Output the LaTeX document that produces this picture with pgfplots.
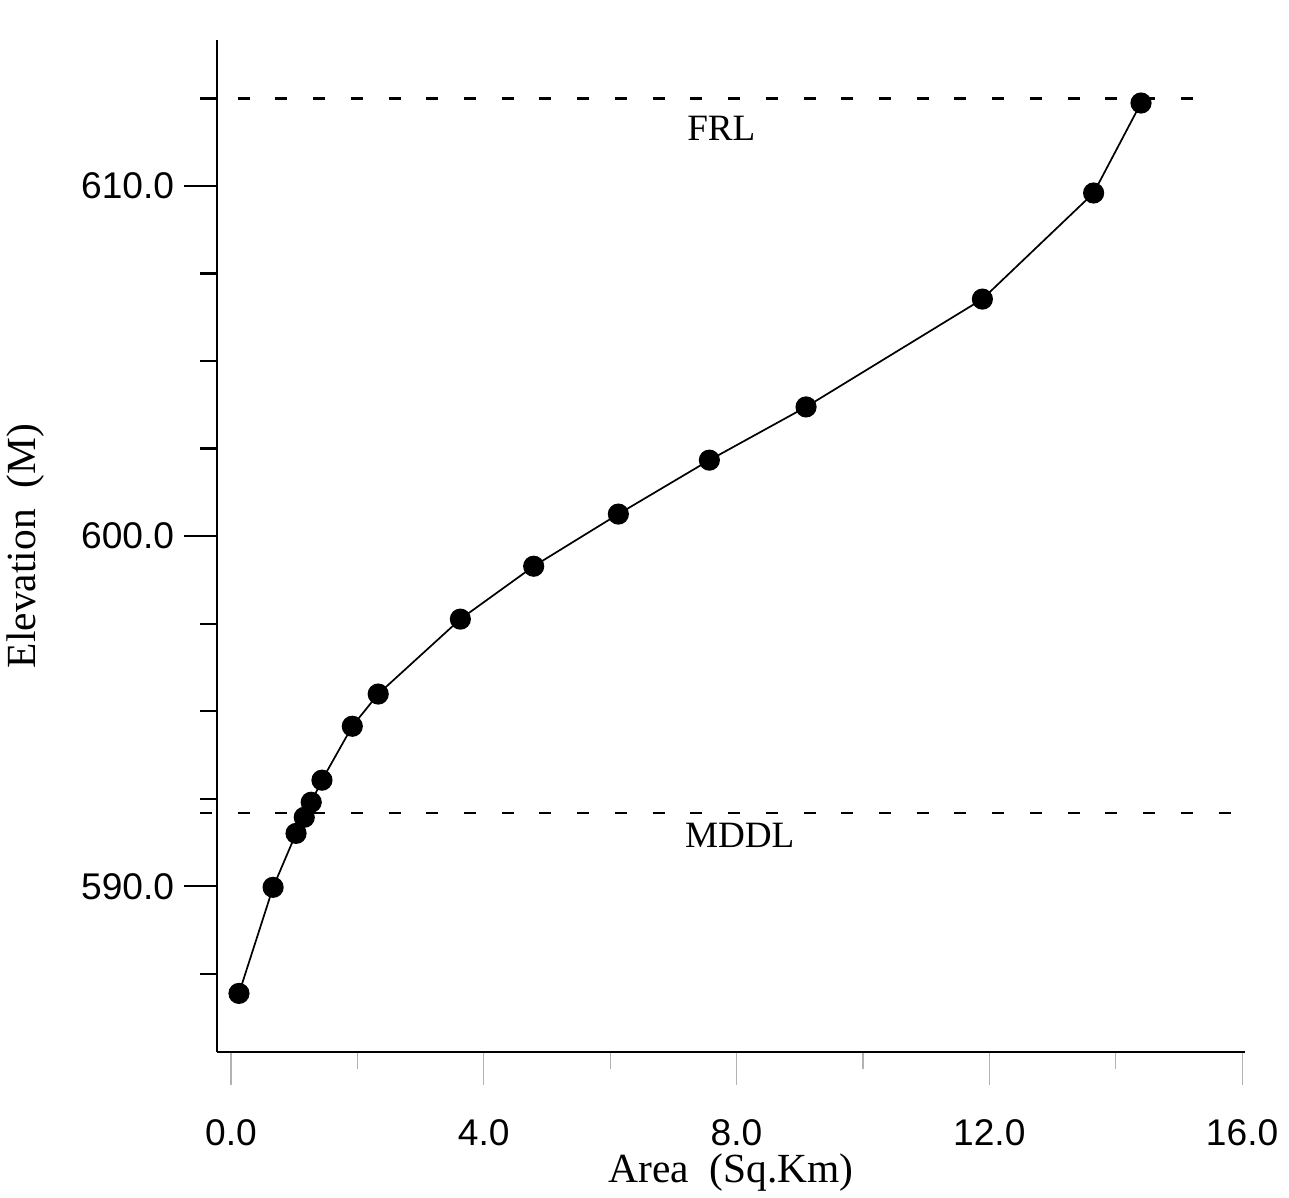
\documentclass[border=0pt]{standalone}
\usepackage{fontspec}
\setmainfont{Liberation Serif}
\newfontfamily\arialf{Liberation Sans}
\usepackage{pgfplots}
\pgfplotsset{compat=1.18}

\begin{document}
\begin{tikzpicture}
\begin{axis}[
  scale only axis,
  width=359.8pt, height=354.2pt,
  xmin=-0.22, xmax=16.05,
  ymin=585.26, ymax=614.17,
  axis x line=bottom, axis y line=left,
  axis line style={-, line width=0.8pt},
  clip=false,
  xtick={0,4,8,12,16}, minor xtick={2,6,10,14},
  ytick={590,600,610},
  minor ytick={587.5,592.5,595,597.5,602.5,605,607.5,612.5},
  xticklabels={0.0,4.0,8.0,12.0,16.0},
  yticklabels={590.0,600.0,610.0},
  tick align=outside,
  major tick length=11.5pt, minor tick length=6pt,
  y tick style={black, line width=0.8pt},
  x tick style={black!30, line width=0.4pt},
  ticklabel style={font=\arialf\fontsize{13}{15}\selectfont},
  xticklabel style={inner sep=0pt, yshift=-12pt},
  xlabel={Area\ \ (Sq.Km)},
  ylabel={Elevation\ \ (M)},
  label style={font=\fontsize{14.5}{17}\selectfont, inner sep=0pt},
  xlabel style={at={(axis description cs:0.5,-0.119)}, anchor=center},
  ylabel style={at={(axis description cs:-0.186,0.5)}, anchor=center},
]
% full reservoir level and minimum draw down level
\addplot[black, line width=0.75pt, dash pattern=on 4.2pt off 9pt]
  coordinates {(-0.49,612.5) (15.6,612.5)};
\addplot[black, line width=0.75pt, dash pattern=on 4.2pt off 9pt]
  coordinates {(-0.49,592.09) (15.97,592.09)};
\node[font=\fontsize{13}{15}\selectfont] at (axis cs:7.76,611.66) {FRL};
\node[font=\fontsize{13}{15}\selectfont] at (axis cs:8.05,591.46) {MDDL};

% elevation - area curve
\addplot[black, line width=0.6pt, mark=*, mark size=3.4pt,
  mark options={fill=black}] coordinates {
  (0.127,586.94) (0.667,589.97) (1.03,591.51) (1.16,591.97)
  (1.27,592.40) (1.44,593.03) (1.92,594.57) (2.33,595.49)
  (3.63,597.63) (4.79,599.14) (6.13,600.63) (7.57,602.17)
  (9.10,603.69) (11.89,606.77) (13.65,609.80) (14.40,612.37)
};
\coordinate (sw) at (rel axis cs:0,0);
\coordinate (ne) at (rel axis cs:1,1);
\end{axis}
\path ([shift={(-75.95pt,-50.75pt)}]sw) rectangle ([shift={(15.3pt,14pt)}]ne);
\end{tikzpicture}
\end{document}
